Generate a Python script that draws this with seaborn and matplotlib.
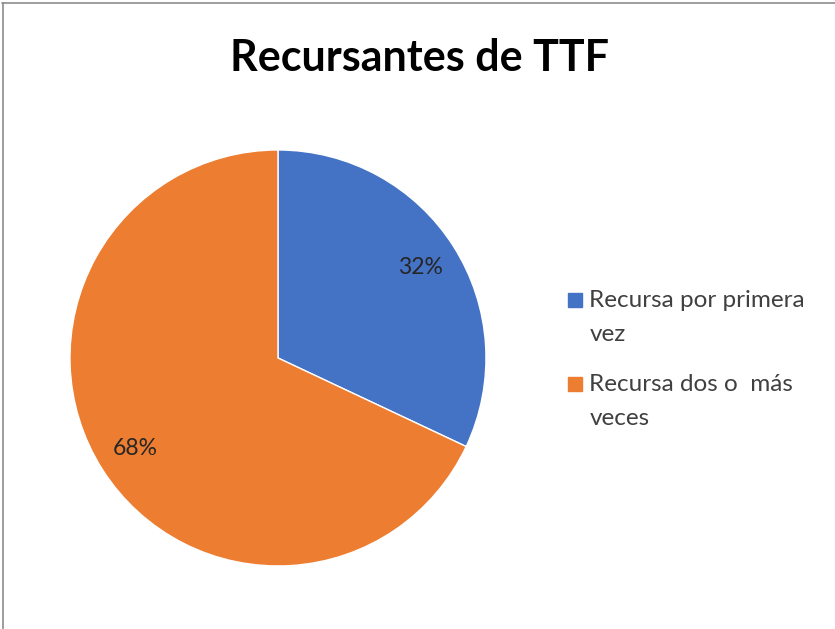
import matplotlib
matplotlib.use("Agg")
import matplotlib.pyplot as plt
import seaborn as sns
from matplotlib.lines import Line2D
from matplotlib.legend_handler import HandlerLine2D

categories = ["Recursa por primera\nvez", "Recursa dos o  más\nveces"]
values = [32, 68]
colors = ["#4472C4", "#ED7D31"]
title = "Recursantes de TTF"

sns.set_theme(style="white")
plt.rcParams['font.family'] = ['Lato', 'DejaVu Sans']


class UpHandler(HandlerLine2D):
    def __init__(self, shift, **kw):
        super().__init__(**kw)
        self.shift = shift

    def create_artists(self, legend, orig_handle, xdescent, ydescent,
                       width, height, fontsize, trans):
        arts = super().create_artists(legend, orig_handle, xdescent, ydescent,
                                      width, height, fontsize, trans)
        for a in arts:
            a.set_ydata([y + self.shift for y in a.get_ydata()])
        return arts


fig = plt.figure(figsize=(8.35, 6.29), dpi=100)
ax = fig.add_axes([0.0838, 0.1002, 0.4982, 0.6614])
wedges, texts, autotexts = ax.pie(
    values, colors=colors, startangle=90, counterclock=False,
    autopct=lambda p: f"{p:.0f}%", pctdistance=0.81,
    wedgeprops=dict(edgecolor="white", linewidth=1),
    textprops=dict(fontsize=16.5, color="#262626"))
ax.set_aspect("equal")
ax.set_xlim(-1, 1)
ax.set_ylim(-1, 1)
ax.axis("off")

fig.text(0.502, 0.907, title, ha="center", va="center", fontsize=31,
         fontweight="bold", color="black")

handles = [Line2D([0], [0], marker="s", linestyle="", markersize=10,
                  markerfacecolor=c, markeredgecolor=c) for c in colors]
leg = fig.legend(handles, categories, loc="upper left",
                 bbox_to_anchor=(0.655, 0.573), frameon=False, fontsize=17.5,
                 handlelength=0.5, handletextpad=0.35, labelspacing=1.2,
                 labelcolor="#404040",
                 handler_map={Line2D: UpHandler(12.5)})
for t in leg.get_texts():
    t.set_linespacing(1.75)

# border lines (top and left)
fig.add_artist(Line2D([0.002, 1], [0.995, 0.995], color="#8c8c8c", lw=1.2,
                      transform=fig.transFigure))
fig.add_artist(Line2D([0.003, 0.003], [0, 0.995], color="#8c8c8c", lw=1.2,
                      transform=fig.transFigure))

fig.savefig("out.png", dpi=100, facecolor="white")
